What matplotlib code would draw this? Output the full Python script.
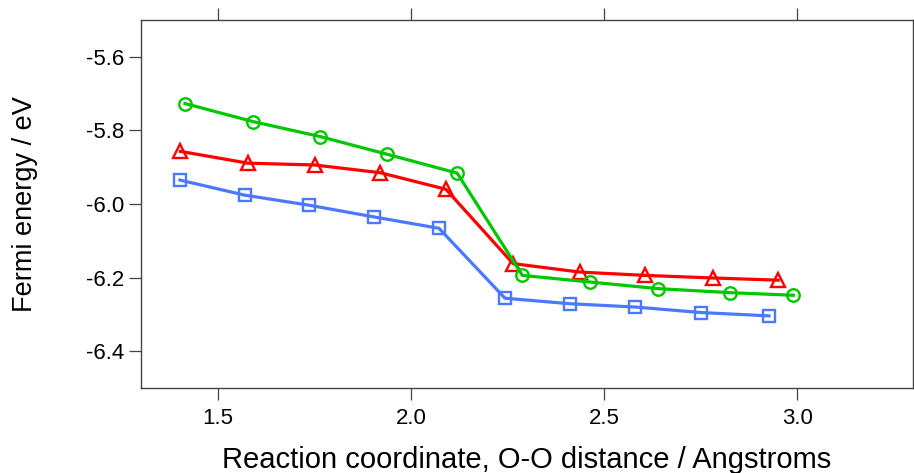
import numpy as np
import matplotlib
matplotlib.use('Agg')
import matplotlib.pyplot as plt

plt.rcParams['font.family'] = ['Liberation Sans', 'DejaVu Sans']

# values
green_x = [1.414, 1.590, 1.765, 1.938, 2.119, 2.288, 2.463, 2.640, 2.827, 2.990]
green_y = [-5.727, -5.776, -5.817, -5.865, -5.916, -6.194, -6.212, -6.230, -6.241, -6.248]

red_x = [1.402, 1.577, 1.750, 1.920, 2.090, 2.264, 2.437, 2.606, 2.782, 2.951]
red_y = [-5.857, -5.889, -5.894, -5.915, -5.960, -6.162, -6.185, -6.194, -6.201, -6.207]

blue_x = [1.401, 1.569, 1.734, 1.903, 2.072, 2.243, 2.411, 2.581, 2.751, 2.927]
blue_y = [-5.935, -5.976, -6.003, -6.035, -6.066, -6.256, -6.271, -6.280, -6.295, -6.304]

x_ticks = [1.5, 2.0, 2.5, 3.0]
y_ticks = [-5.6, -5.8, -6.0, -6.2, -6.4]

fig = plt.figure(figsize=(9.14, 4.73), dpi=100)
ax = fig.add_axes([141/914, 1 - 388/473, (913-141)/914, (388-20)/473])

lw = 2.3
ms = 9
mew = 1.7
ax.plot(blue_x, blue_y, color='#4a78ff', lw=lw, marker='s', ms=ms-0.5,
        mfc='none', mew=mew, zorder=3)
ax.plot(red_x, red_y, color='#ff0000', lw=lw, marker='^', ms=ms+1,
        mfc='none', mew=mew, zorder=4)
ax.plot(green_x, green_y, color='#00c800', lw=lw, marker='o', ms=ms,
        mfc='none', mew=mew, zorder=5)

ax.set_xlim(1.3, 3.3)
ax.set_ylim(-6.5, -5.5)
ax.set_xticks(x_ticks)
ax.set_xticklabels(['%.1f' % v for v in x_ticks])
ax.set_yticks(y_ticks)
ax.set_yticklabels(['%.1f' % v for v in y_ticks])

for s in ax.spines.values():
    s.set_color('#444444')
    s.set_linewidth(1.0)

ax.tick_params(axis='x', top=True, bottom=True, direction='out', length=8.5,
               width=0.9, color='#444444', labelsize=16, pad=6)
ax.tick_params(axis='y', left=True, right=False, direction='out', length=9,
               width=0.9, color='#444444', labelsize=16, pad=3)

ax.set_xlabel('Reaction coordinate, O-O distance / Angstroms', fontsize=21)
ax.set_ylabel('Fermi energy / eV', fontsize=19.5)
ax.xaxis.set_label_coords(0.5, -0.157)
ax.yaxis.set_label_coords(-0.133, 0.5)

fig.savefig('out.png', dpi=100)
